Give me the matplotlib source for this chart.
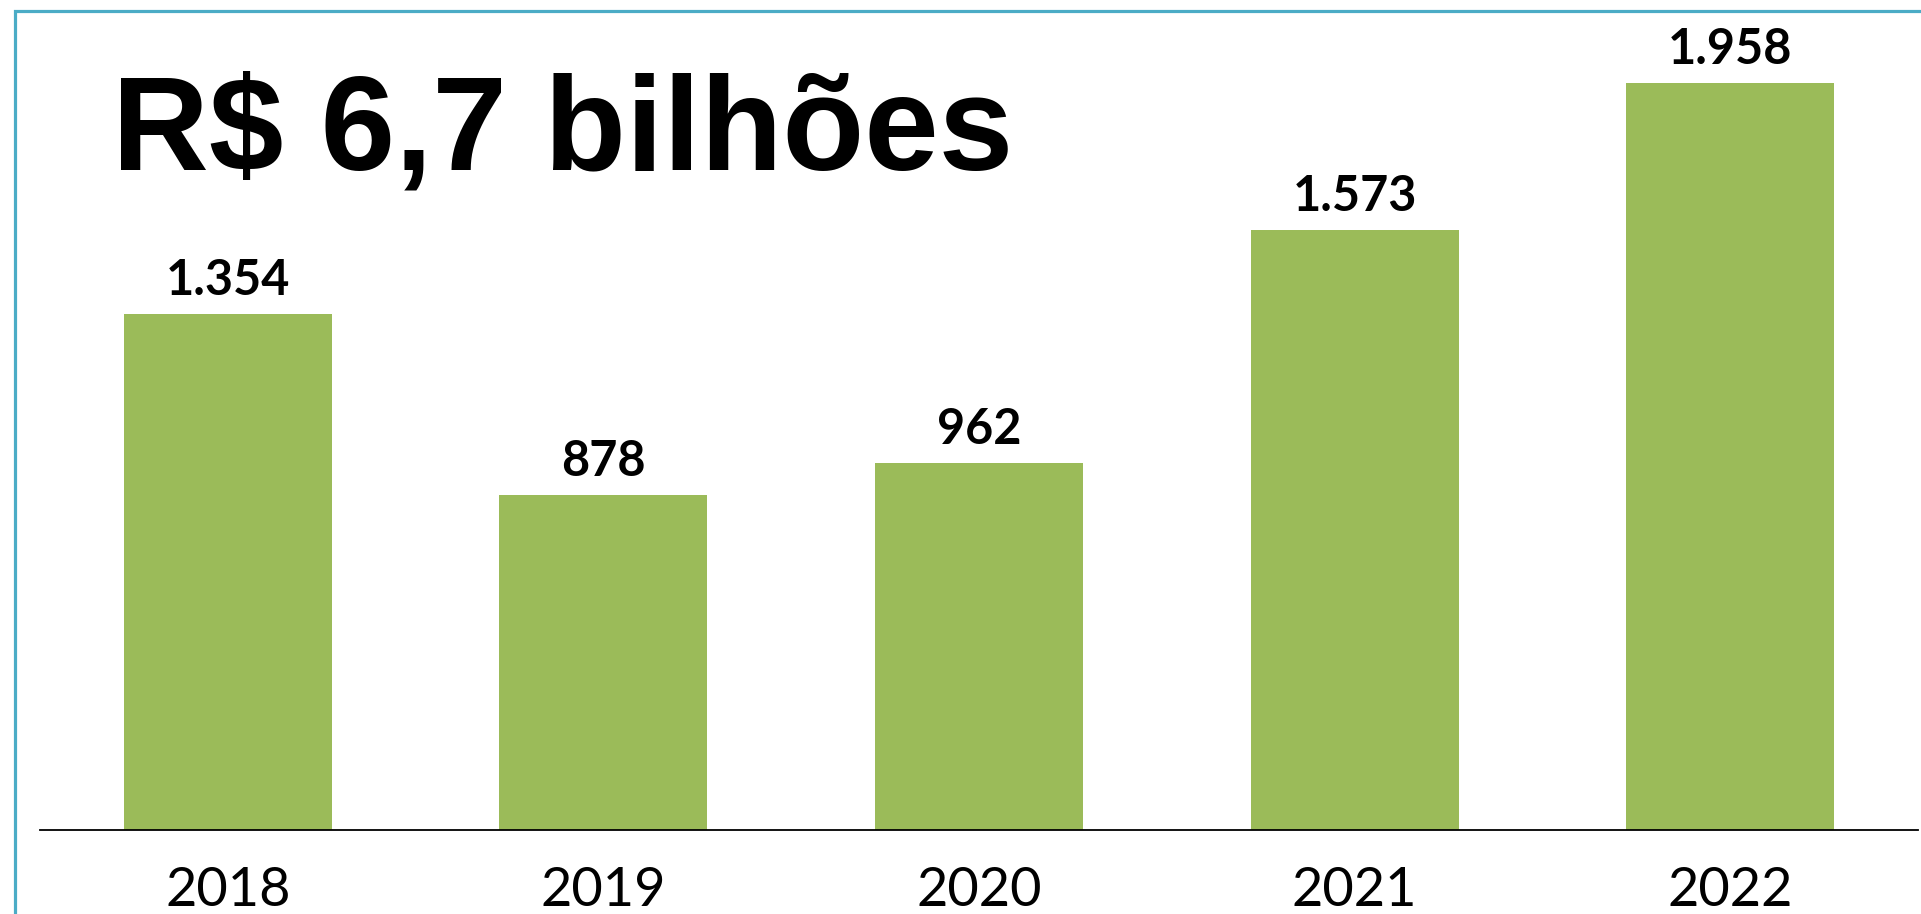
import matplotlib.pyplot as plt
from matplotlib.patches import Rectangle

years = ["2018", "2019", "2020", "2021", "2022"]
values = [1354, 878, 962, 1573, 1958]
value_labels = ["1.354", "878", "962", "1.573", "1.958"]
title = "R$ 6,7 bilhões"

W, H = 1921, 914
fig = plt.figure(figsize=(W / 100, H / 100), dpi=100)
fig.patch.set_facecolor("white")

# axes area in pixels: x 40..1918, baseline at y=830, top at y=0
ax = fig.add_axes([40 / W, (H - 830) / H, 1878 / W, 830 / H])
x = list(range(len(years)))
ax.bar(x, values, width=0.554, color="#9BBB59", zorder=2)
ax.set_xlim(-0.5, len(years) - 0.5)
ax.set_ylim(0, 2176)

for s in ["top", "left", "right"]:
    ax.spines[s].set_visible(False)
ax.spines["bottom"].set_color("black")
ax.spines["bottom"].set_linewidth(1.3)
ax.spines["bottom"].set_zorder(3)
ax.set_yticks([])
ax.set_xticks([])
ax.patch.set_alpha(0)

# value labels above bars
for xi, v, lab in zip(x, values, value_labels):
    ax.annotate(lab, (xi, v), xytext=(0, 13.7), textcoords="offset points",
                ha="center", va="baseline", fontsize=35, fontweight="bold",
                family="Lato", color="black", annotation_clip=False)

# year labels under the axis
for xi, yr in zip(x, years):
    ax.annotate(yr, (xi, 0), xycoords=("data", "axes fraction"),
                xytext=(0, -76 / 1.389), textcoords="offset points",
                ha="center", va="baseline", fontsize=39, family="Lato",
                color="black", annotation_clip=False)

# big title
fig.text(112 / W, 1 - 169 / H, title, ha="left", va="baseline",
         fontsize=96.5, fontweight="bold", family="Liberation Sans",
         color="black")

# blue frame (right and bottom edges fall outside the picture)
fig.add_artist(Rectangle((14.5 / W, -0.1), 1.2, 1 - 11.5 / H + 0.1,
                         transform=fig.transFigure, fill=False,
                         edgecolor="#4BACC6", linewidth=2.3, zorder=5))

fig.savefig("out.png", dpi=100, facecolor="white")
